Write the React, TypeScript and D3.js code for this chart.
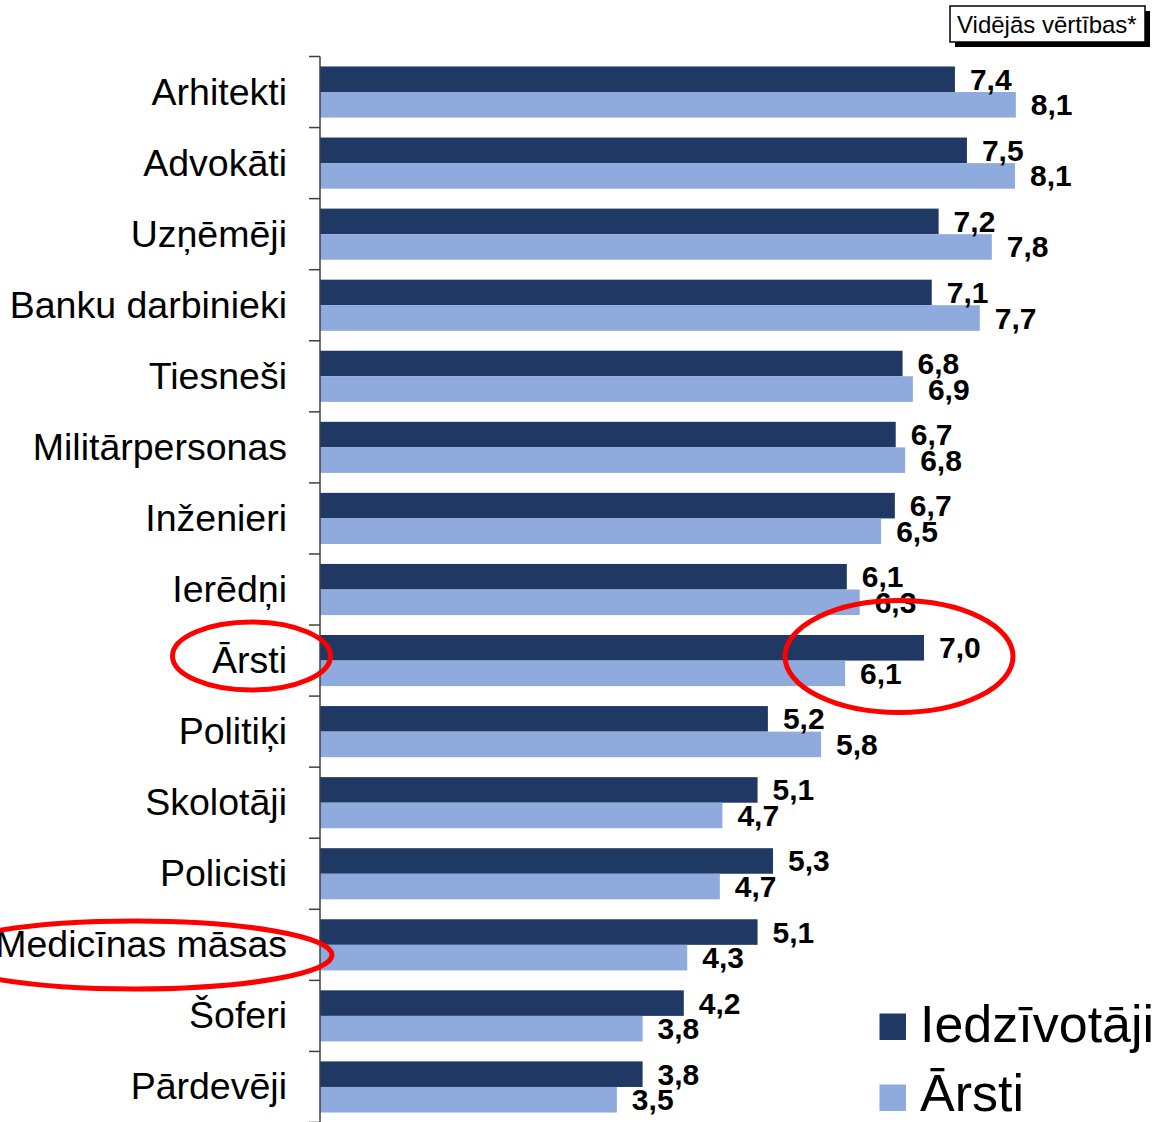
import React from "react";
import * as d3 from "d3";

const categories = [
  "Arhitekti",
  "Advokāti",
  "Uzņēmēji",
  "Banku darbinieki",
  "Tiesneši",
  "Militārpersonas",
  "Inženieri",
  "Ierēdņi",
  "Ārsti",
  "Politiķi",
  "Skolotāji",
  "Policisti",
  "Medicīnas māsas",
  "Šoferi",
  "Pārdevēji",
];

const iedzivotaji = [7.4, 7.54, 7.21, 7.13, 6.79, 6.71, 6.7, 6.14, 7.04, 5.22, 5.1, 5.28, 5.1, 4.24, 3.76];
const arsti = [8.11, 8.1, 7.83, 7.69, 6.91, 6.82, 6.54, 6.29, 6.12, 5.84, 4.69, 4.66, 4.28, 3.76, 3.46];

const seriesNames = ["Iedzīvotāji", "Ārsti"];
const seriesColors = ["#203864", "#8FAADC"];
const boxTitle = "Vidējās vērtības*";

const W = 1157;
const H = 1122;
const FONT = "'Liberation Sans', Arial, Helvetica, sans-serif";

const fmt = (v: number) => v.toFixed(1).replace(".", ",");

export default function App() {
  const x = d3.scaleLinear().domain([0, 10]).range([320, 320 + 858]);
  const y = d3.scaleBand<string>().domain(categories).range([56.5, 1122.5]).padding(0);
  const inner = d3
    .scaleBand<string>()
    .domain(seriesNames)
    .range([0, y.bandwidth()])
    .paddingOuter(0.39)
    .paddingInner(0);

  const seriesValues = [iedzivotaji, arsti];
  const boundaries = d3.range(categories.length + 1).map((i) => 56.5 + i * y.step());

  return (
    <svg
      width={W}
      height={H}
      style={{ position: "absolute", left: 0, top: 0, background: "#fff" }}
      fontFamily={FONT}
    >
      <rect x={0} y={0} width={W} height={H} fill="#fff" />

      {/* bars */}
      {categories.map((c, i) =>
        seriesNames.map((s, si) => {
          const v = seriesValues[si][i];
          const by = (y(c) as number) + (inner(s) as number);
          return (
            <rect
              key={c + s}
              x={x(0)}
              y={by}
              width={x(v) - x(0)}
              height={inner.bandwidth()}
              fill={seriesColors[si]}
            />
          );
        })
      )}

      {/* axis */}
      <line x1={320} x2={320} y1={56.5} y2={H} stroke="#404040" strokeWidth={1.5} />
      {boundaries.map((b, i) => (
        <line key={i} x1={309} x2={320} y1={b} y2={b} stroke="#404040" strokeWidth={1.5} />
      ))}

      {/* category labels */}
      {categories.map((c) => (
        <text
          key={c}
          x={287}
          y={(y(c) as number) + y.bandwidth() / 2 + 12.5}
          textAnchor="end"
          fontSize={37.5}
          fill="#000"
        >
          {c}
        </text>
      ))}

      {/* value labels */}
      {categories.map((c, i) =>
        seriesNames.map((s, si) => {
          const v = seriesValues[si][i];
          const cy = (y(c) as number) + (inner(s) as number) + inner.bandwidth() / 2;
          return (
            <text
              key={"l" + c + s}
              x={x(v) + 15}
              y={cy + 10.5}
              fontSize={30}
              fontWeight="bold"
              fill="#000"
            >
              {fmt(v)}
            </text>
          );
        })
      )}

      {/* legend */}
      {seriesNames.map((s, si) => (
        <g key={"lg" + s}>
          <rect x={879.5} y={1013.5 + si * 71} width={26.5} height={26.5} fill={seriesColors[si]} />
          <text x={920} y={1042 + si * 69} fontSize={52} fill="#000">
            {s}
          </text>
        </g>
      ))}

      {/* title box */}
      <rect x={955} y={11} width={195} height={36} fill="#000" />
      <rect x={950} y={6} width={195} height={36} fill="#fff" stroke="#000" strokeWidth={1.5} />
      <text x={957} y={33} fontSize={24} fill="#000">
        {boxTitle}
      </text>

      {/* red highlight ellipses */}
      <ellipse cx={251.5} cy={656} rx={79} ry={34} fill="none" stroke="#FF0000" strokeWidth={5} />
      <ellipse cx={899} cy={656.5} rx={114} ry={56} fill="none" stroke="#FF0000" strokeWidth={5} />
      <ellipse cx={135} cy={955} rx={197} ry={34} fill="none" stroke="#FF0000" strokeWidth={5} />
    </svg>
  );
}
